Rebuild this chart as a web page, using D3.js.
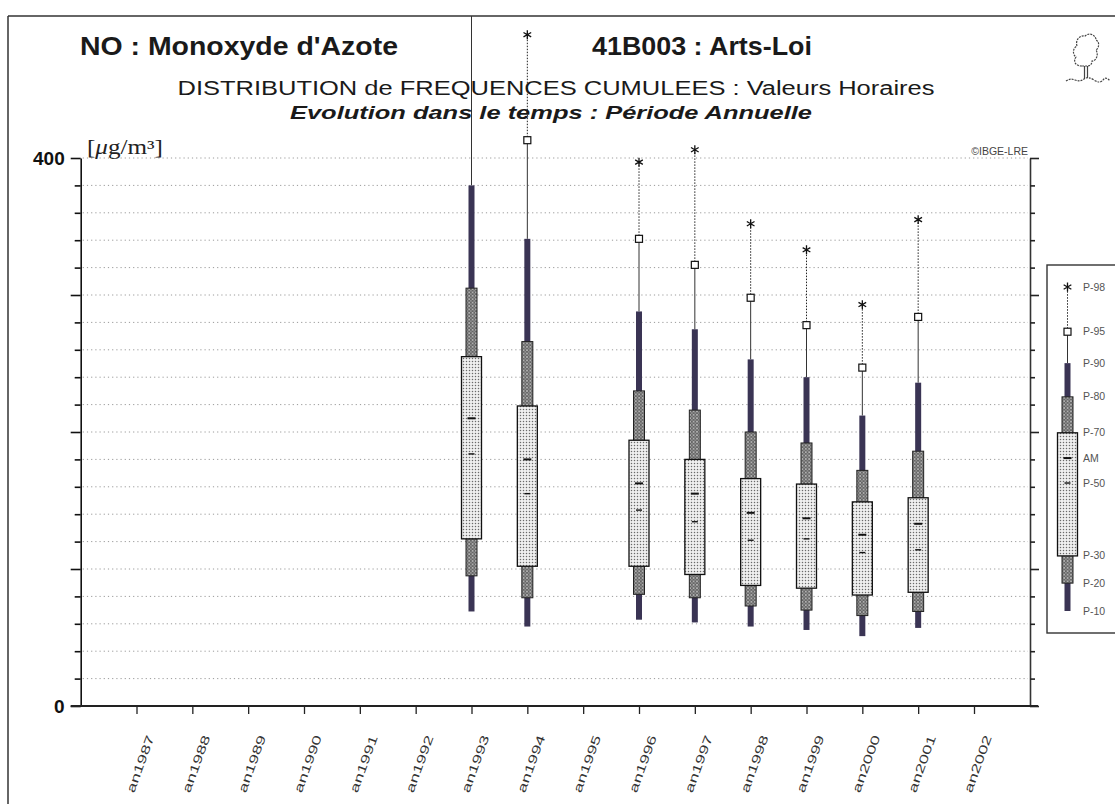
<!DOCTYPE html>
<html>
<head>
<meta charset="utf-8">
<script src="https://cdn.jsdelivr.net/npm/d3@7"></script>
<style>
  html, body { margin: 0; padding: 0; background: #fff; }
  svg { display: block; }
</style>
</head>
<body>
<svg id="chart" width="1115" height="804"></svg>
<script>
// ---------------- DATA ----------------
const years = ["an1987","an1988","an1989","an1990","an1991","an1992","an1993","an1994",
               "an1995","an1996","an1997","an1998","an1999","an2000","an2001","an2002"];
const dataYears = ["an1993","an1994","an1996","an1997","an1998","an1999","an2000","an2001"];
const p10 = [69, 58, 63, 61, 58, 55.5, 51, 57];
const p20 = [95, 79, 81.5, 79, 73, 70, 66, 69];
const p30 = [122, 102, 102, 96, 88, 86, 81, 83];
const p50 = [184, 155, 143, 134.5, 121, 122, 112, 114];
const am  = [210, 180, 162.5, 155, 141, 137, 125, 133];
const p70 = [255, 219, 194, 180, 166, 162, 149, 152];
const p80 = [305, 266, 230, 216, 200, 192, 172, 186];
const p90 = [380, 341, 288, 275, 253, 240, 212, 236];
const p95 = [520, 413, 341, 322, 298, 278, 247, 284];
const p98 = [560, 490, 397, 406, 352, 333, 293, 355];

const yTickValues = [0,20,40,60,80,100,120,140,160,180,200,220,240,260,280,300,320,340,360,380,400];
const yTickLabels = {0: "0", 400: "400"};

const legendLabels = ["P-98","P-95","P-90","P-80","P-70","AM","P-50","P-30","P-20","P-10"];
const legendKeys   = ["p98","p95","p90","p80","p70","am","p50","p30","p20","p10"];
// schematic legend glyph (relative positions, 0..1)
const legendSample = {p10: 0, p20: 0.086, p30: 0.17, p50: 0.395, am: 0.472, p70: 0.55,
                      p80: 0.661, p90: 0.765, p95: 0.862, p98: 1};

const titleLeft = "NO : Monoxyde d'Azote";
const titleRight = "41B003 : Arts-Loi";
const subtitle1 = "DISTRIBUTION de FREQUENCES CUMULEES : Valeurs Horaires";
const subtitle2 = "Evolution dans le temps : Période Annuelle";
const copyright = "©IBGE-LRE";

// ---------------- SETUP ----------------
const SANS = "'Liberation Sans', Arial, Helvetica, sans-serif";
const svg = d3.select("#chart");
svg.append("rect").attr("width",1115).attr("height",804).attr("fill","#fff");

const defs = svg.append("defs");
const pw = defs.append("pattern").attr("id","pw").attr("width",3).attr("height",3)
  .attr("patternUnits","userSpaceOnUse");
pw.append("rect").attr("width",3).attr("height",3).attr("fill","#efefef");
pw.append("circle").attr("cx",1.5).attr("cy",1.5).attr("r",0.75).attr("fill","#6a6a6a");
const pn = defs.append("pattern").attr("id","pn").attr("width",3.4).attr("height",3.4)
  .attr("patternUnits","userSpaceOnUse");
pn.append("rect").attr("width",3.4).attr("height",3.4).attr("fill","#b0b0b0");
pn.append("circle").attr("cx",1.7).attr("cy",1.7).attr("r",1.15).attr("fill","#e0e0e0")
  .attr("stroke","#222").attr("stroke-width",0.7);
defs.append("clipPath").attr("id","frameClip").append("rect")
  .attr("x",8).attr("y",16).attr("width",1107).attr("height",788);

// Frame
svg.append("line").attr("x1",8).attr("x2",1115).attr("y1",16).attr("y2",16)
  .attr("stroke","#333").attr("stroke-width",1.5);
svg.append("line").attr("x1",8).attr("x2",8).attr("y1",16).attr("y2",804)
  .attr("stroke","#333").attr("stroke-width",1.5);

// Scales
const y = d3.scaleLinear().domain([0,400]).range([706,158]);
const x = d3.scalePoint().domain(years).range([136.5, 974]);
const xLeft = 80.7, xRight = 1030;

// Gridlines
svg.append("g").selectAll("line").data(yTickValues.filter(v => v > 0)).join("line")
  .attr("x1", xLeft + 2).attr("x2", xRight - 2)
  .attr("y1", d => y(d)).attr("y2", d => y(d))
  .attr("stroke","#9a9a9a").attr("stroke-width",1).attr("stroke-dasharray","1.2,3");

// Left axis
const axL = svg.append("g").attr("transform",`translate(${xLeft},0)`)
  .call(d3.axisLeft(y).tickValues(yTickValues).tickSize(6).tickSizeOuter(0).tickPadding(10)
    .tickFormat(d => yTickLabels[d] || ""));
axL.select(".domain").attr("stroke","#111").attr("stroke-width",1.6);
axL.selectAll(".tick line").attr("stroke","#111").attr("stroke-width",1.6)
  .attr("x2", d => d % 100 === 0 ? -10 : -6);
axL.selectAll(".tick text").attr("font-family",SANS).attr("font-size",19)
  .attr("fill","#111").attr("font-weight","bold").attr("x",-16);

// Right axis
const axR = svg.append("g").attr("transform",`translate(${xRight},0)`)
  .call(d3.axisRight(y).tickValues(yTickValues).tickSize(5).tickSizeOuter(0).tickFormat(""));
axR.select(".domain").attr("stroke","#333").attr("stroke-width",1.6);
axR.selectAll(".tick line").attr("stroke","#222").attr("stroke-width",1.6)
  .attr("x2", d => d % 100 === 0 ? 9 : 5);

// Bottom axis
const axB = svg.append("g").attr("transform",`translate(0,${y(0)})`)
  .call(d3.axisBottom(x).tickSize(8).tickSizeOuter(0).tickFormat(""));
axB.select(".domain").remove();
axB.append("line").attr("x1",xLeft - 10).attr("x2",xRight + 8).attr("y1",0).attr("y2",0)
  .attr("stroke","#222").attr("stroke-width",2);
axB.selectAll(".tick line").attr("stroke","#222").attr("stroke-width",1.3);
svg.append("g").selectAll("text").data(years).join("text")
  .attr("transform", d => `translate(${x(d)+18},737) rotate(-70) scale(1.5,1)`)
  .attr("text-anchor","end")
  .attr("font-family",SANS).attr("font-size",12).attr("fill","#333")
  .text(d => d);

// Glyph drawer
function drawGlyph(g, cx, d, ys) {
  g.append("line").attr("x1",cx).attr("x2",cx).attr("y1",ys(d.p90)).attr("y2",ys(d.p95))
    .attr("stroke","#333").attr("stroke-width",1);
  g.append("line").attr("x1",cx).attr("x2",cx).attr("y1",ys(d.p95)).attr("y2",ys(d.p98))
    .attr("stroke","#222").attr("stroke-width",1).attr("stroke-dasharray","1.5,1.5");
  g.append("rect").attr("x",cx-3).attr("width",6)
    .attr("y",ys(d.p90)).attr("height",ys(d.p10)-ys(d.p90)).attr("fill","#3a3454");
  g.append("rect").attr("x",cx-5.5).attr("width",11)
    .attr("y",ys(d.p80)).attr("height",ys(d.p20)-ys(d.p80))
    .attr("fill","url(#pn)").attr("stroke","#222").attr("stroke-width",1);
  g.append("rect").attr("x",cx-10).attr("width",20)
    .attr("y",ys(d.p70)).attr("height",ys(d.p30)-ys(d.p70))
    .attr("fill","url(#pw)").attr("stroke","#111").attr("stroke-width",1.3);
  g.append("line").attr("x1",cx-4).attr("x2",cx+4).attr("y1",ys(d.am)).attr("y2",ys(d.am))
    .attr("stroke","#111").attr("stroke-width",2);
  g.append("line").attr("x1",cx-3).attr("x2",cx+3).attr("y1",ys(d.p50)).attr("y2",ys(d.p50))
    .attr("stroke","#111").attr("stroke-width",1.4);
  g.append("rect").attr("x",cx-3.5).attr("y",ys(d.p95)-3.5).attr("width",7).attr("height",7)
    .attr("fill","#fff").attr("stroke","#111").attr("stroke-width",1.2);
  g.append("path").attr("d", d3.symbol(d3.symbolAsterisk, 55)())
    .attr("transform",`translate(${cx},${ys(d.p98)})`)
    .attr("fill","none").attr("stroke","#111").attr("stroke-width",1.3);
}

const records = dataYears.map((yr,i) => ({yr, p10:p10[i], p20:p20[i], p30:p30[i], p50:p50[i],
  am:am[i], p70:p70[i], p80:p80[i], p90:p90[i], p95:p95[i], p98:p98[i]}));
const marks = svg.append("g").attr("clip-path","url(#frameClip)");
records.forEach(r => drawGlyph(marks.append("g"), x(r.yr), r, y));

// Legend
const lg = svg.append("g");
lg.append("rect").attr("x",1047).attr("y",265).attr("width",90).attr("height",368)
  .attr("fill","#fff").attr("stroke","#333").attr("stroke-width",1.4);
const ly = d3.scaleLinear().domain([0,1]).range([611, 287]);
drawGlyph(lg.append("g"), 1067.5, legendSample, ly);
lg.selectAll("text.lbl").data(legendKeys).join("text").attr("class","lbl")
  .attr("x",1083).attr("y", k => ly(legendSample[k]) + 3.5)
  .attr("font-family",SANS).attr("font-size",10.5).attr("fill","#555")
  .text((k,i) => legendLabels[i]);

// Titles
function txt(s, xx, yy, size, weight, style, len, family) {
  return svg.append("text").attr("x",xx).attr("y",yy).attr("font-family",family || SANS)
    .attr("font-size",size).attr("font-weight",weight).attr("font-style",style)
    .attr("fill","#1a1a1a").attr("textLength",len).attr("lengthAdjust","spacingAndGlyphs").text(s);
}
txt(titleLeft, 80, 55, 26, "bold", "normal", 318);
txt(titleRight, 592, 55, 26, "bold", "normal", 220);
txt(subtitle1, 177.5, 95, 20, "normal", "normal", 757);
txt(subtitle2, 290, 119, 19, "bold", "italic", 522);

// Unit label
const unit = svg.append("text").attr("x",87).attr("y",154)
  .attr("font-family","'Liberation Serif', 'Times New Roman', serif").attr("font-size",20)
  .attr("fill","#222").attr("textLength",76).attr("lengthAdjust","spacingAndGlyphs");
unit.append("tspan").text("[");
unit.append("tspan").attr("font-style","italic").text("μ");
unit.append("tspan").text("g/m³]");

svg.append("text").attr("x",1028).attr("y",155).attr("text-anchor","end")
  .attr("font-family",SANS).attr("font-size",10.5).attr("fill","#444").text(copyright);

// Tree logo
const tree = svg.append("g").attr("fill","none").attr("stroke","#444").attr("stroke-width",1.2);
tree.append("path").attr("stroke-dasharray","2,1")
  .attr("d","M1082,66 C1075,66 1073,61 1076,57 C1072,54 1073,48 1077,46 C1075,40 1080,35 1085,36 C1089,32 1096,35 1096,40 C1100,42 1099,48 1096,50 C1099,55 1096,61 1092,61 C1092,65 1089,66 1087,66 Z");
tree.append("path").attr("d","M1084.5,66 L1084.5,78 M1087.5,66 L1087.5,78");
tree.append("path").attr("stroke-dasharray","2,1")
  .attr("d","M1066,81 Q1070,78 1075,80 T1084,79 T1094,80 T1103,80 T1110,81");
</script>
</body>
</html>
